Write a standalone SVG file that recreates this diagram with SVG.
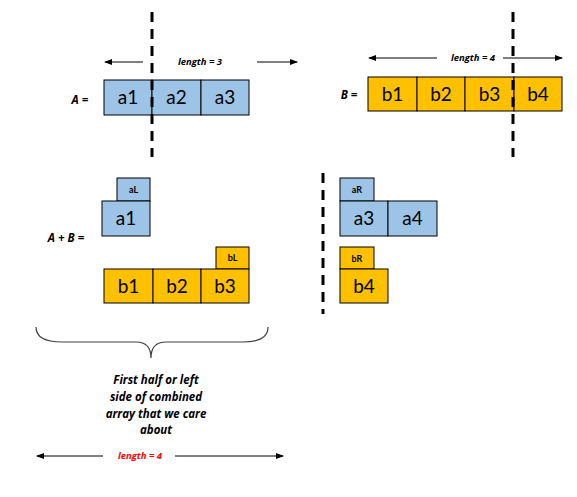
<svg xmlns="http://www.w3.org/2000/svg" width="577" height="497" viewBox="0 0 577 497">
<style>
.a{fill:#9DC3E6;stroke:#000;stroke-width:1}
.b{fill:#FFC000;stroke:#000;stroke-width:1}
.c{font-family:Lato,"Open Sans",sans-serif;font-size:19px;fill:#000;text-anchor:middle}
.s{font-family:Lato,"Open Sans",sans-serif;font-size:9px;font-weight:bold;fill:#000;text-anchor:middle}
.l{font-family:"Open Sans","Liberation Sans",sans-serif;font-size:9.5px;font-weight:bold;font-style:italic;fill:#000;text-anchor:middle}
.t{font-family:"Open Sans","Liberation Sans",sans-serif;font-size:11.5px;font-weight:bold;font-style:italic;fill:#000;text-anchor:middle}
.d{stroke:#000;stroke-width:3;stroke-dasharray:10 7;fill:none}
.ar{stroke:#000;stroke-width:1;fill:none;marker-end:url(#ah)}
</style>
<defs>
<marker id="ah" markerWidth="8" markerHeight="6" refX="7" refY="3" orient="auto" markerUnits="userSpaceOnUse">
<path d="M0,0 L8,3 L0,6 Z" fill="#000"/>
</marker>
</defs>
<rect width="577" height="497" fill="#fff"/>
<g id="arrayA">
<text class="t" x="80" y="104">A =</text>
<rect class="a" x="104" y="80" width="48" height="35"/><text class="c" x="128" y="104">a1</text>
<rect class="a" x="152" y="80" width="49" height="35"/><text class="c" x="176.5" y="104">a2</text>
<rect class="a" x="201" y="80" width="48" height="35"/><text class="c" x="225" y="104">a3</text>
</g>
<g id="arrayB">
<text class="t" x="349" y="99">B =</text>
<rect class="b" x="368" y="77" width="49" height="34"/><text class="c" x="392.5" y="101">b1</text>
<rect class="b" x="417" y="77" width="48" height="34"/><text class="c" x="441" y="101">b2</text>
<rect class="b" x="465" y="77" width="49" height="34"/><text class="c" x="489.5" y="101">b3</text>
<rect class="b" x="514" y="77" width="48" height="34"/><text class="c" x="538" y="101">b4</text>
</g>
<g id="combinedLeft">
<text class="t" x="66" y="242">A + B =</text>
<rect class="a" x="117" y="178" width="33" height="23"/><text class="s" x="133.5" y="193">aL</text>
<rect class="a" x="102" y="201" width="48" height="35"/><text class="c" x="126" y="225">a1</text>
<rect class="b" x="216" y="247" width="33" height="22"/><text class="s" x="232.5" y="261">bL</text>
<rect class="b" x="104" y="269" width="49" height="34"/><text class="c" x="128.5" y="293">b1</text>
<rect class="b" x="153" y="269" width="48" height="34"/><text class="c" x="177" y="293">b2</text>
<rect class="b" x="201" y="269" width="48" height="34"/><text class="c" x="225" y="293">b3</text>
</g>
<g id="combinedRight">
<rect class="a" x="340" y="178" width="34" height="23"/><text class="s" x="357" y="193">aR</text>
<rect class="a" x="340" y="201" width="48" height="35"/><text class="c" x="364" y="225">a3</text>
<rect class="a" x="388" y="201" width="49" height="35"/><text class="c" x="412.5" y="225">a4</text>
<rect class="b" x="340" y="247" width="34" height="22"/><text class="s" x="357" y="262">bR</text>
<rect class="b" x="340" y="269" width="48" height="34"/><text class="c" x="364" y="293">b4</text>
</g>
<g id="connectors">
<line class="d" x1="152" y1="12" x2="152" y2="157"/>
<line class="d" x1="513" y1="12" x2="513" y2="157"/>
<line class="d" x1="323" y1="173" x2="323" y2="314"/>
<line class="ar" x1="143" y1="62" x2="105" y2="62"/>
<line class="ar" x1="257" y1="62" x2="297" y2="62"/>
<line class="ar" x1="437" y1="58" x2="369" y2="58"/>
<line class="ar" x1="503" y1="58" x2="562" y2="58"/>
<line class="ar" x1="103" y1="456" x2="37" y2="456"/>
<line class="ar" x1="175" y1="456" x2="283" y2="456"/>
<path d="M36,327 C36,337 44,342 62,342 L136,342 C146,342 151,348 151,358 C151,348 156,342 166,342 L243,342 C260,342 268,337 268,327" fill="none" stroke="#404040" stroke-width="1.2"/>
</g>
<g id="labels">
<text class="l" x="200" y="65">length = 3</text>
<text class="l" x="473" y="61">length = 4</text>
<text class="l" x="140" y="459" style="fill:#FF0000">length = 4</text>
<text class="t" x="156" y="384">First half or left</text>
<text class="t" x="156" y="401">side of combined</text>
<text class="t" x="156" y="418">array that we care</text>
<text class="t" x="156" y="434">about</text>
</g>
</svg>
